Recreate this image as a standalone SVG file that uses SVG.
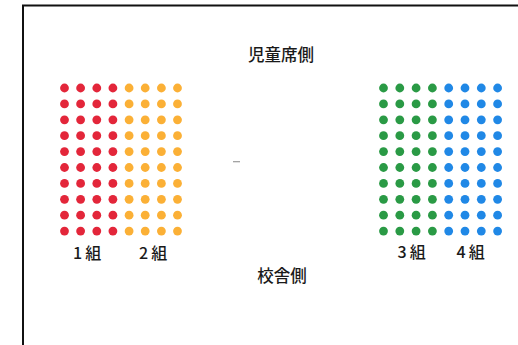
<svg xmlns="http://www.w3.org/2000/svg" width="518" height="345" viewBox="0 0 518 345">
<defs>
<style>
text{font-family:"Noto Sans CJK JP","Noto Sans",sans-serif;fill:#1a1a1a;font-weight:500}
.t{font-size:16.5px}
.l{font-size:16px}
.r{fill:#e3263a}
.o{fill:#fbb036}
.g{fill:#2a9a45}
.b{fill:#2088e6}
</style>
<circle id="d" r="4.4"/>
<g id="col10">
<use href="#d" y="88"/><use href="#d" y="103.9"/><use href="#d" y="119.8"/><use href="#d" y="135.7"/><use href="#d" y="151.6"/>
<use href="#d" y="167.5"/><use href="#d" y="183.4"/><use href="#d" y="199.3"/><use href="#d" y="215.2"/><use href="#d" y="231.1"/>
</g>
</defs>
<rect width="518" height="345" fill="#fff"/>
<g id="frame" fill="none" stroke="#111" stroke-width="2">
<path d="M23,345 V5.5 H518"/>
</g>
<g id="labels">
<text class="t" x="281" y="61" text-anchor="middle">児童席側</text>
<text class="t" x="282" y="282" text-anchor="middle">校舎側</text>
</g>
<g id="class1">
<use href="#col10" class="r" x="64.5"/><use href="#col10" class="r" x="80.6"/><use href="#col10" class="r" x="96.8"/><use href="#col10" class="r" x="112.9"/>
<text class="l" x="73" y="259">1<tspan dx="3">組</tspan></text>
</g>
<g id="class2">
<use href="#col10" class="o" x="129.1"/><use href="#col10" class="o" x="145.2"/><use href="#col10" class="o" x="161.4"/><use href="#col10" class="o" x="177.5"/>
<text class="l" x="139" y="259">2<tspan dx="3">組</tspan></text>
</g>
<g id="class3">
<use href="#col10" class="g" x="383.5"/><use href="#col10" class="g" x="399.8"/><use href="#col10" class="g" x="416.1"/><use href="#col10" class="g" x="432.4"/>
<text class="l" x="397.5" y="258">3<tspan dx="3">組</tspan></text>
</g>
<g id="class4">
<use href="#col10" class="b" x="448.7"/><use href="#col10" class="b" x="465"/><use href="#col10" class="b" x="481.3"/><use href="#col10" class="b" x="497.6"/>
<text class="l" x="456.5" y="258">4<tspan dx="3">組</tspan></text>
</g>
<g id="marks">
<line x1="233" y1="161.7" x2="240" y2="161.7" stroke="#9a9a9a" stroke-width="1.2"/>
</g>
</svg>
